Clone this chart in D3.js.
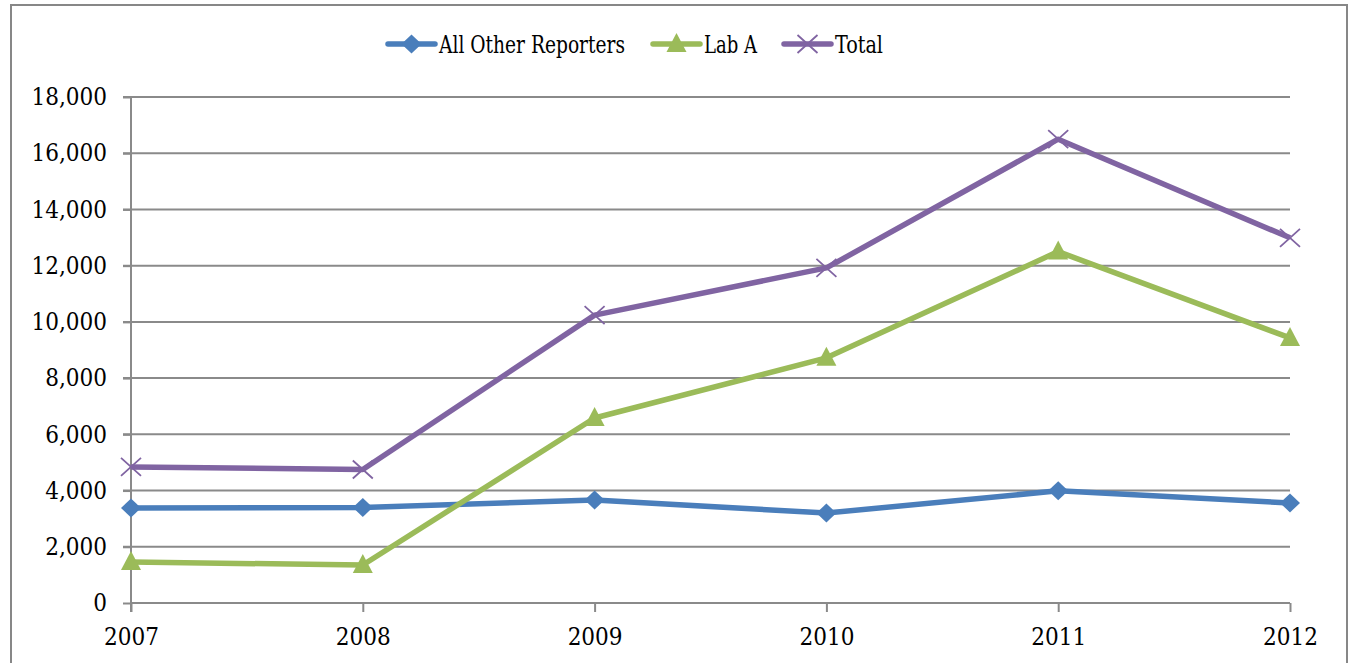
<!DOCTYPE html>
<html><head><meta charset="utf-8">
<script src="https://cdn.jsdelivr.net/npm/d3@7"></script>
<style>body{margin:0;background:#fff;overflow:hidden}svg{display:block}text{font-family:"DejaVu Serif Condensed","DejaVu Serif",serif;font-stretch:condensed;fill:#000}</style>
</head><body>
<script>
const years = ["2007","2008","2009","2010","2011","2012"];
const allOther = [3380, 3400, 3660, 3200, 3990, 3560];
const labA = [1460, 1350, 6580, 8720, 12500, 9430];
const total = [4840, 4750, 10240, 11920, 16500, 12990];
const yTicks = [0,2000,4000,6000,8000,10000,12000,14000,16000,18000];
const seriesNames = ["All Other Reporters","Lab A","Total"];
const seriesColors = ["#4a7ebb","#9bbb59","#8064a2"];
const seriesMarkers = ["diamond","triangle","x"];

const W=1351,H=663;
const svg=d3.select("body").append("svg").attr("width",W).attr("height",H);
svg.append("rect").attr("x",11).attr("y",5).attr("width",1336).attr("height",H+10)
  .attr("fill","#fff").attr("stroke","#878787").attr("stroke-width",2);

const x=d3.scalePoint().domain(years).range([131,1290]);
const y=d3.scaleLinear().domain([0,18000]).range([603,97]);
const grid="#8a8a8a";
const fs=24;

// gridlines
svg.append("g").selectAll("line").data(yTicks.slice(1)).join("line")
  .attr("x1",123).attr("x2",1290).attr("y1",d=>y(d)).attr("y2",d=>y(d))
  .attr("stroke",grid).attr("stroke-width",2);

// y axis
const ya=svg.append("g").attr("transform","translate(131,0)")
  .call(d3.axisLeft(y).tickValues(yTicks).tickSize(8).tickPadding(16).tickFormat(d3.format(",")));
ya.select(".domain").attr("stroke",grid).attr("stroke-width",2).attr("d","M0,97V612");
ya.selectAll(".tick line").attr("stroke",grid).attr("stroke-width",2);
ya.selectAll("text").style("font-size",fs+"px").attr("font-family",null);

// x axis
const xa=svg.append("g").attr("transform","translate(0,603)")
  .call(d3.axisBottom(x).tickSize(9).tickPadding(16));
xa.select(".domain").attr("stroke",grid).attr("stroke-width",2).attr("d","M131,0H1290");
xa.selectAll(".tick line").attr("stroke",grid).attr("stroke-width",2);
xa.selectAll("text").style("font-size",fs+"px").attr("font-family",null);

const data=[allOther,labA,total];
function marker(g,type,color){
  if(type==="diamond") g.append("path").attr("d","M0,-9.5L10,0L0,9.5L-10,0Z").attr("fill",color);
  else if(type==="triangle") g.append("path").attr("d","M0,-11L10,8L-10,8Z").attr("fill",color);
  else g.append("path").attr("d","M-10,-9L10,9M-10,9L10,-9").attr("stroke",color).attr("stroke-width",1.8).attr("fill","none");
}
const line=d3.line().x((d,i)=>x(years[i])).y(d=>y(d));
data.forEach((vals,si)=>{
  const g=svg.append("g");
  g.append("path").datum(vals).attr("d",line).attr("fill","none")
    .attr("stroke",seriesColors[si]).attr("stroke-width",5.5).attr("stroke-linejoin","round");
  g.selectAll("g.m").data(vals).join("g").attr("class","m")
    .attr("transform",(d,i)=>`translate(${x(years[i])},${y(d)})`)
    .each(function(){marker(d3.select(this),seriesMarkers[si],seriesColors[si]);});
});

// legend
const legX=[388,653,784];
const legW=[186,53,48];
seriesNames.forEach((n,i)=>{
  const g=svg.append("g").attr("transform",`translate(${legX[i]},44)`);
  g.append("line").attr("x1",0).attr("x2",47).attr("stroke",seriesColors[i]).attr("stroke-width",5.5).attr("stroke-linecap","round");
  const m=g.append("g").attr("transform","translate(23.5,0)");
  marker(m,seriesMarkers[i],seriesColors[i]);
  g.append("text").attr("x",51).attr("y",0).attr("dy","0.35em").style("font-size","25px")
    .attr("textLength",legW[i]).attr("lengthAdjust","spacingAndGlyphs").text(n);
});
</script>
</body></html>
